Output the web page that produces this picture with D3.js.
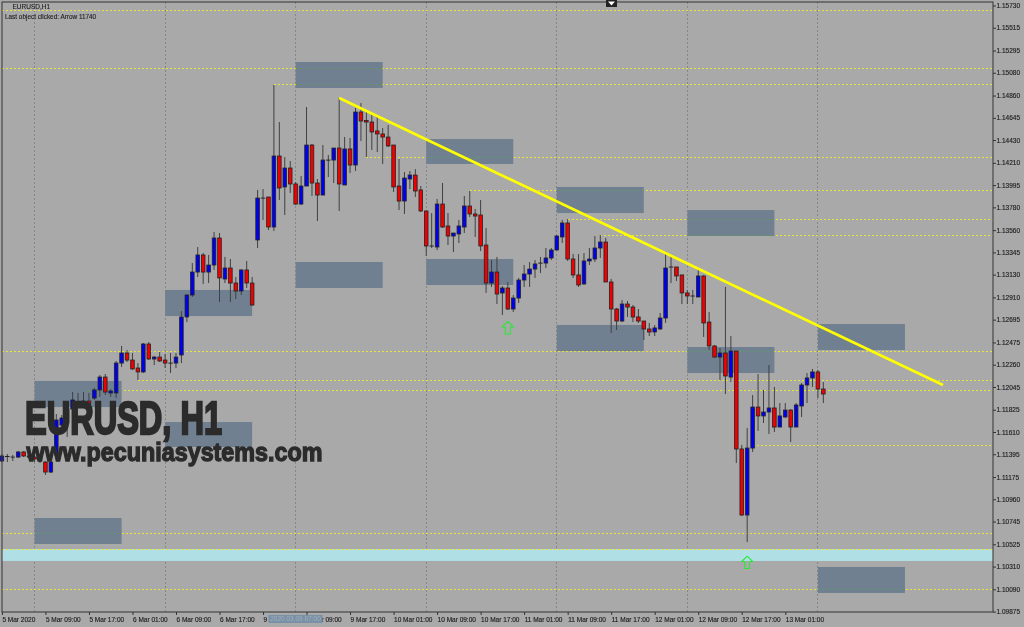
<!DOCTYPE html>
<html><head><meta charset="utf-8"><title>EURUSD,H1</title>
<script src="https://cdnjs.cloudflare.com/ajax/libs/d3/7.8.5/d3.min.js"></script>
<style>
html,body{margin:0;padding:0;background:#a9a9a9;overflow:hidden}
svg{display:block;filter:blur(.3px)}
text{font-family:"Liberation Sans",Arial,sans-serif}
</style></head><body>
<div id="chart"></div>
<script>
// Prices in points (1 point = 0.00001)
const open=[111330,111373,111368,111368,111417,111378,111368,111349,111320,111223,
111388,111677,111697,111832,111890,111861,111909,111938,112016,112141,
111987,111987,112276,112373,112305,112228,112190,112460,112315,112334,
112305,112276,112276,112354,112721,112933,113155,113320,113155,113223,
113484,113088,113194,113049,112972,113175,113049,113465,113870,113880,
113590,114276,113977,114160,114006,113812,113986,114382,114015,113899,
114237,114237,114353,113996,114344,114189,114701,114619,114604,114518,
114489,114459,114382,113986,113841,114054,114092,113948,113745,113407,
113397,113812,113600,113503,113523,113590,113793,113716,113706,113416,
113049,113155,112953,113001,112798,112904,113078,113136,113184,113242,
113242,113291,113368,113494,113629,113281,113127,113040,113262,113281,
113387,113445,113059,112798,112682,112846,112817,112721,112682,112605,
112576,112605,112711,113204,113204,113127,112953,112924,112914,113117,
112672,112441,112334,112373,112141,112392,111446,110808,111455,111851,
111765,111803,111842,111658,111755,111822,111658,111861,112064,112132,
112190,112025];
const close=[111378,111373,111368,111417,111378,111368,111349,111330,111223,111320,
111726,111745,111832,111919,111871,111909,111881,112016,112141,111996,
112006,112276,112373,112305,112219,112190,112460,112315,112334,112296,
112276,112276,112334,112721,112933,113155,113320,113155,113223,113484,
113098,113194,113049,112972,113175,113049,112837,113870,113870,113590,
114276,113967,114160,114006,113812,113986,114382,114015,113899,114237,
114237,114353,114006,114344,114189,114701,114614,114604,114508,114489,
114459,114373,113977,113841,114063,114092,113938,113745,113407,113407,
113812,113590,113503,113532,113600,113793,113716,113696,113407,113049,
113155,112943,113001,112798,112904,113078,113136,113184,113233,113242,
113291,113368,113503,113629,113281,113127,113030,113262,113281,113387,
113445,113059,112798,112682,112846,112817,112721,112682,112605,112576,
112615,112711,113194,113204,113117,112953,112924,112924,113117,112663,
112441,112334,112373,112151,112392,111446,110808,111455,111851,111765,
111803,111842,111658,111765,111822,111658,111871,112064,112132,112190,
112025,111977];
const high=[111397,111397,111388,111426,111426,111397,111417,111359,111330,111339,
111784,111774,111871,111996,111987,111996,111987,112035,112160,112170,
112025,112296,112441,112402,112373,112276,112470,112479,112344,112383,
112363,112373,112373,112779,112943,113242,113397,113339,113320,113542,
113532,113301,113281,113107,113184,113262,113107,113948,113957,113880,
114962,114604,114266,114228,114025,114083,114749,114392,114054,114382,
114286,114353,114836,114459,114450,114740,114788,114720,114672,114653,
114546,114575,114382,114247,114121,114131,114150,113986,113745,113725,
113861,114015,113725,113532,113658,113890,113938,113764,113851,113581,
113271,113301,113020,113059,112933,113098,113223,113252,113271,113301,
113387,113387,113513,113658,113667,113329,113329,113339,113387,113503,
113513,113484,113088,112808,112885,112875,112837,112798,112682,112663,
112644,112759,113339,113320,113204,113127,112982,112982,113194,113127,
112769,112450,112421,113011,112537,112392,111484,111649,111967,112170,
112016,112257,112045,111890,111890,111832,111890,112083,112180,112219,
112209,112093];
const low=[111320,111320,111330,111359,111368,111349,111320,111310,111195,111214,
111368,111648,111562,111803,111842,111842,111871,111919,111948,111967,
111948,111938,112238,112286,112209,112112,112180,112305,112257,112286,
112228,112180,112228,112276,112672,112914,113107,113040,113049,113175,
112866,113049,112866,112895,112933,113001,112827,113387,113658,113561,
113552,113851,113706,113919,113803,113803,113986,113890,113648,113899,
114073,114015,113745,113996,114112,114131,114421,114266,114334,114315,
114199,114363,113928,113754,113716,113957,113880,113735,113310,113387,
113368,113581,113416,113349,113436,113532,113687,113494,113358,112953,
113011,112846,112740,112788,112769,112856,113011,113011,113098,113146,
113194,113271,113368,113436,113262,113098,113011,113030,113223,113252,
113291,113059,112566,112595,112672,112721,112672,112663,112499,112537,
112537,112595,112663,113049,113069,112846,112846,112846,112914,112528,
112402,112325,112112,111977,112093,111310,110798,110547,111417,111620,
111697,111591,111610,111658,111745,111513,111658,111755,111890,112045,
111938,111890];

// Supply / demand zones: first bar, upper and lower price
const zoneStart=[54,78,102,126,54,78,30,102,126,150,6,30,6,150];
const zoneTop=[115184,114440,113977,113754,113252,113281,112982,112644,112431,112653,112103,111706,110779,110306];
const zoneBottom=[114933,114199,113725,113503,113001,113030,112730,112392,112180,112402,111851,111465,110528,110055];
const zoneBars=16;

// Horizontal dashed levels: price and first bar
const levelPrice=[115686,115126,114962,114266,113938,113663,113510,112387,112112,112006,111484,110634,110475,110084];
const levelStartBar=[0,0,50,67,86,104,110,0,25,15,138,0,0,0];

// Cyan band
const bandTop=110480, bandBottom=110364;

// Trendline
const trendBars=[62,173];
const trendPrices=[114836,112064];

// Arrows
const arrowBars=[93,137];
const arrowPrices=[112615,110349];

// Axes
const priceTicks=[115730,115515,115295,115080,114860,114645,114430,114210,113995,113780,113560,113345,113130,112910,112695,112475,112260,112045,111825,111610,111395,111175,110960,110745,110525,110310,110090,109875];
const timeBars=[0,8,16,24,32,40,48,56,64,72,80,88,96,104,112,120,128,136,144];
const timeLabels=["5 Mar 2020","5 Mar 09:00","5 Mar 17:00","6 Mar 01:00","6 Mar 09:00","6 Mar 17:00","9 Mar 01:00","9 Mar 09:00","9 Mar 17:00","10 Mar 01:00","10 Mar 09:00","10 Mar 17:00","11 Mar 01:00","11 Mar 09:00","11 Mar 17:00","12 Mar 01:00","12 Mar 09:00","12 Mar 17:00","13 Mar 01:00"];
const separatorBars=[6,30,54,78,102,126,150];

const W=1024,H=627;
const frame={l:2,t:2,r:993,b:612};
const x=d3.scaleLinear().domain([0,180]).range([1.9,1.9+5.44*180]);
const y=d3.scaleLinear().domain([109875,115783]).range([611.6,0]);

const svg=d3.select("#chart").append("svg").attr("width",W).attr("height",H);
svg.append("rect").attr("width",W).attr("height",H).attr("fill","#a9a9a9");

// separators
svg.append("g").selectAll("line").data(separatorBars).join("line")
 .attr("x1",d=>x(d)).attr("x2",d=>x(d)).attr("y1",frame.t).attr("y2",frame.b)
 .attr("stroke","#868686").attr("stroke-width",1).attr("stroke-dasharray","2,2").attr("shape-rendering","crispEdges");

// band
svg.append("rect").attr("x",frame.l).attr("width",frame.r-frame.l)
 .attr("y",y(bandTop)).attr("height",y(bandBottom)-y(bandTop)).attr("fill","#b0e0e6");

// levels
const levels=levelPrice.map((p,i)=>({p,s:levelStartBar[i]}));
svg.append("g").selectAll("line").data(levels).join("line")
 .attr("x1",d=>d.s===0?frame.l:x(d.s)).attr("x2",frame.r).attr("y1",d=>y(d.p)).attr("y2",d=>y(d.p))
 .attr("stroke","#e8e434").attr("stroke-width",1).attr("stroke-dasharray","2,2").attr("shape-rendering","crispEdges");

// zones
const zones=zoneStart.map((s,i)=>({s,t:zoneTop[i],b:zoneBottom[i]}));
svg.append("g").selectAll("rect").data(zones).join("rect")
 .attr("x",d=>x(d.s)).attr("width",d=>x(d.s+zoneBars)-x(d.s))
 .attr("y",d=>y(d.t)).attr("height",d=>y(d.b)-y(d.t)).attr("fill","#708090");

// levels crossing zones turn green
const crossings=[];
zones.forEach(z=>levels.forEach(l=>{
  if(l.p<z.t&&l.p>z.b&&(l.s===0||l.s<z.s+zoneBars)){
    crossings.push({x1:Math.max(x(z.s),l.s===0?frame.l:x(l.s)),x2:x(z.s+zoneBars),p:l.p});
  }
}));
svg.append("g").selectAll("line").data(crossings).join("line")
 .attr("x1",d=>d.x1).attr("x2",d=>d.x2).attr("y1",d=>y(d.p)).attr("y2",d=>y(d.p))
 .attr("stroke","#5f9a6e").attr("stroke-width",1).attr("stroke-dasharray","2,2").attr("shape-rendering","crispEdges");

// candles
const candles=open.map((o,i)=>({i,o,c:close[i],h:high[i],l:low[i]}));
const g=svg.append("g");
g.selectAll("line.w").data(candles).join("line").attr("class","w")
 .attr("x1",d=>x(d.i)).attr("x2",d=>x(d.i)).attr("y1",d=>y(d.h)).attr("y2",d=>y(d.l))
 .attr("stroke","#404040").attr("stroke-width",1);
g.selectAll("rect.b").data(candles).join("rect").attr("class","b")
 .attr("x",d=>x(d.i)-1.8).attr("width",3.6)
 .attr("y",d=>y(Math.max(d.o,d.c)))
 .attr("height",d=>Math.max(0.1,Math.abs(y(d.o)-y(d.c))))
 .attr("fill",d=>d.c>d.o?"#0000f0":d.c<d.o?"#f00000":"#222")
 .attr("stroke","#222").attr("stroke-width",.8);

// trendline
svg.append("path").datum(trendBars.map((b,i)=>[b,trendPrices[i]]))
 .attr("d",d3.line().x(d=>x(d[0])).y(d=>y(d[1])))
 .attr("stroke","#ffff00").attr("stroke-width",2.7).attr("fill","none");

// arrows
const arrowShape=[[0,-6.5],[5.5,-1],[2.5,-1],[2.5,6],[-2.5,6],[-2.5,-1],[-5.5,-1],[0,-6.5]];
const arrowLine=d3.line();
svg.append("g").selectAll("path").data(arrowBars.map((b,i)=>({b,p:arrowPrices[i]}))).join("path")
 .attr("d",arrowLine(arrowShape))
 .attr("transform",d=>`translate(${x(d.b)},${y(d.p)})`)
 .attr("fill","none").attr("stroke","#28e838").attr("stroke-width",1.1);

// frame
svg.append("rect").attr("x",frame.l).attr("y",frame.t).attr("width",frame.r-frame.l).attr("height",frame.b-frame.t)
 .attr("fill","none").attr("stroke","#3f3f3f").attr("stroke-width",1.1);

// right axis
const axisR=d3.axisRight(y).tickValues(priceTicks).tickSize(3).tickPadding(0.5).tickFormat(v=>(v/1e5).toFixed(5));
const ar=svg.append("g").attr("transform",`translate(${frame.r},0)`).call(axisR);
ar.select(".domain").remove();
ar.selectAll("line").attr("stroke","#333");
ar.selectAll("text").attr("fill","#222").attr("stroke","#222").attr("stroke-width",.15).style("font-size","6.5px").style("font-family",'"Liberation Sans"');

// bottom axis
const axisB=d3.axisBottom(x).tickValues(timeBars).tickSize(3).tickPadding(2).tickFormat((v,i)=>timeLabels[i]);
const ab=svg.append("g").attr("transform",`translate(0,${frame.b})`).call(axisB);
ab.select(".domain").remove();
ab.selectAll("line").attr("stroke","#333");
ab.selectAll("text").attr("fill","#222").attr("stroke","#222").attr("stroke-width",.15).attr("text-anchor","start").style("font-size","6.5px").style("font-family",'"Liberation Sans"');

// time tooltip
svg.append("rect").attr("x",268.5).attr("y",615).attr("width",54).attr("height",8).attr("fill","#7890a8");
svg.append("text").attr("x",295.5).attr("y",621.3).attr("text-anchor","middle").attr("fill","#a6aeb6").style("font-size","6.5px").text("2020.03.09 07:00");

// scroll marker
svg.append("rect").attr("x",606).attr("y",0).attr("width",11).attr("height",7).attr("fill","#222");
svg.append("path").attr("d","M608,1.5L615,1.5L611.5,5.5Z").attr("fill","#fff");

// header
svg.append("text").attr("x",12.5).attr("y",9).attr("fill","#222").attr("stroke","#222").attr("stroke-width",.12).style("font-size","6.5px").text("EURUSD,H1");
svg.append("text").attr("x",5).attr("y",18.5).attr("fill","#222").attr("stroke","#222").attr("stroke-width",.12).style("font-size","6.4px").text("Last object clicked: Arrow 11740");

// watermark
svg.append("text").attr("x",25).attr("y",433.5).attr("textLength",197).attr("lengthAdjust","spacingAndGlyphs")
 .attr("fill","#2b2b2b").attr("stroke","#2b2b2b").attr("stroke-width",2.4)
 .style("font-size","47px").style("font-weight","bold").style("font-family",'"Liberation Sans Narrow","Liberation Sans"').text("EURUSD, H1");
svg.append("text").attr("x",26.5).attr("y",461).attr("textLength",296).attr("lengthAdjust","spacingAndGlyphs")
 .attr("fill","#2b2b2b").attr("stroke","#2b2b2b").attr("stroke-width",1.3)
 .style("font-size","25px").style("font-weight","bold").style("font-family",'"Liberation Sans Narrow","Liberation Sans"').text("www.pecuniasystems.com");
</script>
</body></html>
